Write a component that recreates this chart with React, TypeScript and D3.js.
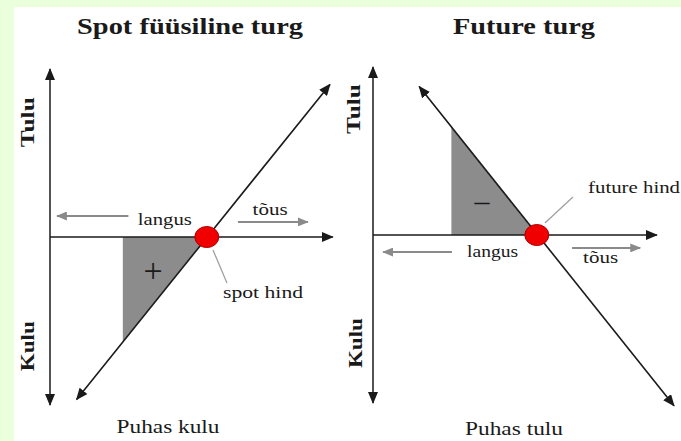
import React from "react";
import * as d3 from "d3";

const W = 681;
const H = 441;

// ---- data (price / profit units) ----
const panelTitles = ["Spot füüsiline turg", "Future turg"];
const bottomLabels = ["Puhas kulu", "Puhas tulu"];
const priceMarkLabels = ["spot hind", "future hind"];
const directionLabels = ["langus", "tõus"];
const profitAxisLabels = ["Tulu", "Kulu"];
const shadeSigns = ["+", "–"];
const breakEvenPrices = [5.6, 5.85];
const payoffLeft = [
  { price: 0.95, profit: -5.8 },
  { price: 10, profit: 5.45 },
];
const payoffRight = [
  { price: 1.65, profit: 5.3 },
  { price: 10.75, profit: -6.1 },
];
const shadeLeft = [
  { price: 2.6, profit: 0 },
  { price: 5.6, profit: 0 },
  { price: 2.6, profit: -3.75 },
];
const shadeRight = [
  { price: 2.8, profit: 0 },
  { price: 5.85, profit: 0 },
  { price: 2.8, profit: 3.85 },
];

type Pt = { price: number; profit: number };

// ---- layout ----
const layouts = [
  {
    xRange: [50, 330],
    yRange: [405, 69],
    axisEnd: 10.1,
    title: { x: 190, y: 34, len: 226 },
    bottom: { x: 168, y: 433, len: 103 },
    langusArrow: { from: 2.8, to: 0.25, at: 0.75 },
    langusText: { p: 4.1, q: 0.43, len: 54 },
    tousArrow: { from: 6.71, to: 9.21, at: 0.54 },
    tousText: { p: 7.86, q: 0.79, len: 35 },
    pointer: [6.32, -1.64, 5.82, -0.46],
    markText: { p: 6.18, q: -2.18, len: 80 },
    sign: { p: 3.68, q: -1.21, size: 34 },
    tulu: { p: -0.79, q: 4.1 },
    kulu: { p: -0.82, q: -3.9 },
  },
  {
    xRange: [373, 653],
    yRange: [403, 67],
    axisEnd: 10.14,
    title: { x: 524, y: 34, len: 142 },
    bottom: { x: 514, y: 435, len: 98 },
    langusArrow: { from: 2.82, to: 0.36, at: -0.61 },
    langusText: { p: 4.27, q: -0.79, len: 51 },
    tousArrow: { from: 7.11, to: 9.54, at: -0.46 },
    tousText: { p: 7.86 + 0.27, q: -1.0, len: 35 },
    pointer: [7.14, 1.36, 6.14, 0.43],
    markText: { p: 7.68, q: 1.5, len: 92 },
    sign: { p: 3.89, q: 1.25, size: 30 },
    tulu: { p: -0.7, q: 4.5 },
    kulu: { p: -0.64, q: -3.86 },
  },
];

const FONT = "Liberation Serif, Times New Roman, serif";
const INK = "#1a1a1a";
const GRAY = "#8a8a8a";

function Panel({ i, payoff, shade }: { i: number; payoff: Pt[]; shade: Pt[] }) {
  const L = layouts[i];
  const x = d3.scaleLinear().domain([0, 10]).range(L.xRange);
  const y = d3.scaleLinear().domain([-6, 6]).range(L.yRange);
  const line = d3
    .line<Pt>()
    .x((d) => x(d.price))
    .y((d) => y(d.profit));
  const shadePath = d3
    .line<Pt>()
    .x((d) => x(d.price))
    .y((d) => y(d.profit))
    .curve(d3.curveLinearClosed)(shade);

  return (
    <g>
      <text
        x={L.title.x}
        y={L.title.y}
        textAnchor="middle"
        fontFamily={FONT}
        fontWeight="bold"
        fontSize={23}
        fill={INK}
        textLength={L.title.len}
        lengthAdjust="spacingAndGlyphs"
      >
        {panelTitles[i]}
      </text>

      {/* shaded triangle */}
      <path d={shadePath || ""} fill="#8c8c8c" stroke="none" />

      {/* axes */}
      <line
        x1={x(0)}
        x2={x(0)}
        y1={y(-6)}
        y2={y(6)}
        stroke={INK}
        strokeWidth={1.5}
        markerStart="url(#arrowBlack)"
        markerEnd="url(#arrowBlack)"
      />
      <line
        x1={x(0)}
        x2={x(L.axisEnd)}
        y1={y(0)}
        y2={y(0)}
        stroke={INK}
        strokeWidth={1.5}
        markerEnd="url(#arrowBlack)"
      />

      {/* payoff line */}
      <path
        d={line(payoff) || ""}
        stroke={INK}
        strokeWidth={1.6}
        fill="none"
        markerStart="url(#arrowBlack)"
        markerEnd="url(#arrowBlack)"
      />

      {/* direction arrows */}
      <line
        x1={x(L.langusArrow.from)}
        x2={x(L.langusArrow.to)}
        y1={y(L.langusArrow.at)}
        y2={y(L.langusArrow.at)}
        stroke={GRAY}
        strokeWidth={2}
        markerEnd="url(#arrowGray)"
      />
      <line
        x1={x(L.tousArrow.from)}
        x2={x(L.tousArrow.to)}
        y1={y(L.tousArrow.at)}
        y2={y(L.tousArrow.at)}
        stroke={GRAY}
        strokeWidth={2}
        markerEnd="url(#arrowGray)"
      />
      <text
        x={x(L.langusText.p)}
        y={y(L.langusText.q)}
        textAnchor="middle"
        fontFamily={FONT}
        fontSize={17}
        fill={INK}
        textLength={L.langusText.len}
        lengthAdjust="spacingAndGlyphs"
      >
        {directionLabels[0]}
      </text>
      <text
        x={x(L.tousText.p)}
        y={y(L.tousText.q)}
        textAnchor="middle"
        fontFamily={FONT}
        fontSize={16}
        fill={INK}
        textLength={L.tousText.len}
        lengthAdjust="spacingAndGlyphs"
      >
        {directionLabels[1]}
      </text>

      {/* pointer to price */}
      <line
        x1={x(L.pointer[0])}
        y1={y(L.pointer[1])}
        x2={x(L.pointer[2])}
        y2={y(L.pointer[3])}
        stroke="#a0a0a0"
        strokeWidth={1.3}
      />
      <text
        x={x(L.markText.p)}
        y={y(L.markText.q)}
        fontFamily={FONT}
        fontSize={17}
        fill={INK}
        textLength={L.markText.len}
        lengthAdjust="spacingAndGlyphs"
      >
        {priceMarkLabels[i]}
      </text>

      {/* break-even marker */}
      <ellipse
        cx={x(breakEvenPrices[i])}
        cy={y(0)}
        rx={12}
        ry={10.5}
        fill="#f00000"
        stroke="#b00000"
        strokeWidth={1}
      />

      {/* sign */}
      <text
        x={x(L.sign.p)}
        y={y(L.sign.q)}
        textAnchor="middle"
        dominantBaseline="central"
        fontFamily={FONT}
        fontSize={L.sign.size}
        fill={INK}
      >
        {shadeSigns[i]}
      </text>

      {/* profit axis labels */}
      {[L.tulu, L.kulu].map((pos, k) => (
        <text
          key={k}
          transform={`translate(${x(pos.p)},${y(pos.q)}) rotate(-90)`}
          textAnchor="middle"
          dominantBaseline="central"
          fontFamily={FONT}
          fontWeight="bold"
          fontSize={19}
          fill={INK}
          textLength={50}
          lengthAdjust="spacingAndGlyphs"
        >
          {profitAxisLabels[k]}
        </text>
      ))}

      <text
        x={L.bottom.x}
        y={L.bottom.y}
        textAnchor="middle"
        fontFamily={FONT}
        fontSize={18}
        fill={INK}
        textLength={L.bottom.len}
        lengthAdjust="spacingAndGlyphs"
      >
        {bottomLabels[i]}
      </text>
    </g>
  );
}

export default function App() {
  return (
    <div style={{ position: "absolute", left: 0, top: 0 }}>
      <svg width={W} height={H} style={{ display: "block" }}>
        <defs>
          <marker
            id="arrowBlack"
            viewBox="0 0 12 10"
            refX={11}
            refY={5}
            markerWidth={12}
            markerHeight={10}
            markerUnits="userSpaceOnUse"
            orient="auto-start-reverse"
          >
            <path d="M0,0 L12,5 L0,10 Z" fill={INK} />
          </marker>
          <marker
            id="arrowGray"
            viewBox="0 0 12 10"
            refX={11}
            refY={5}
            markerWidth={11}
            markerHeight={9}
            markerUnits="userSpaceOnUse"
            orient="auto-start-reverse"
          >
            <path d="M0,0 L12,5 L0,10 Z" fill={GRAY} />
          </marker>
        </defs>
        <rect x={0} y={0} width={W} height={H} fill="#eaffdc" />
        <rect x={14} y={7} width={W - 14} height={H - 7} fill="#ffffff" />
        <Panel i={0} payoff={payoffLeft} shade={shadeLeft} />
        <Panel i={1} payoff={payoffRight} shade={shadeRight} />
      </svg>
    </div>
  );
}
